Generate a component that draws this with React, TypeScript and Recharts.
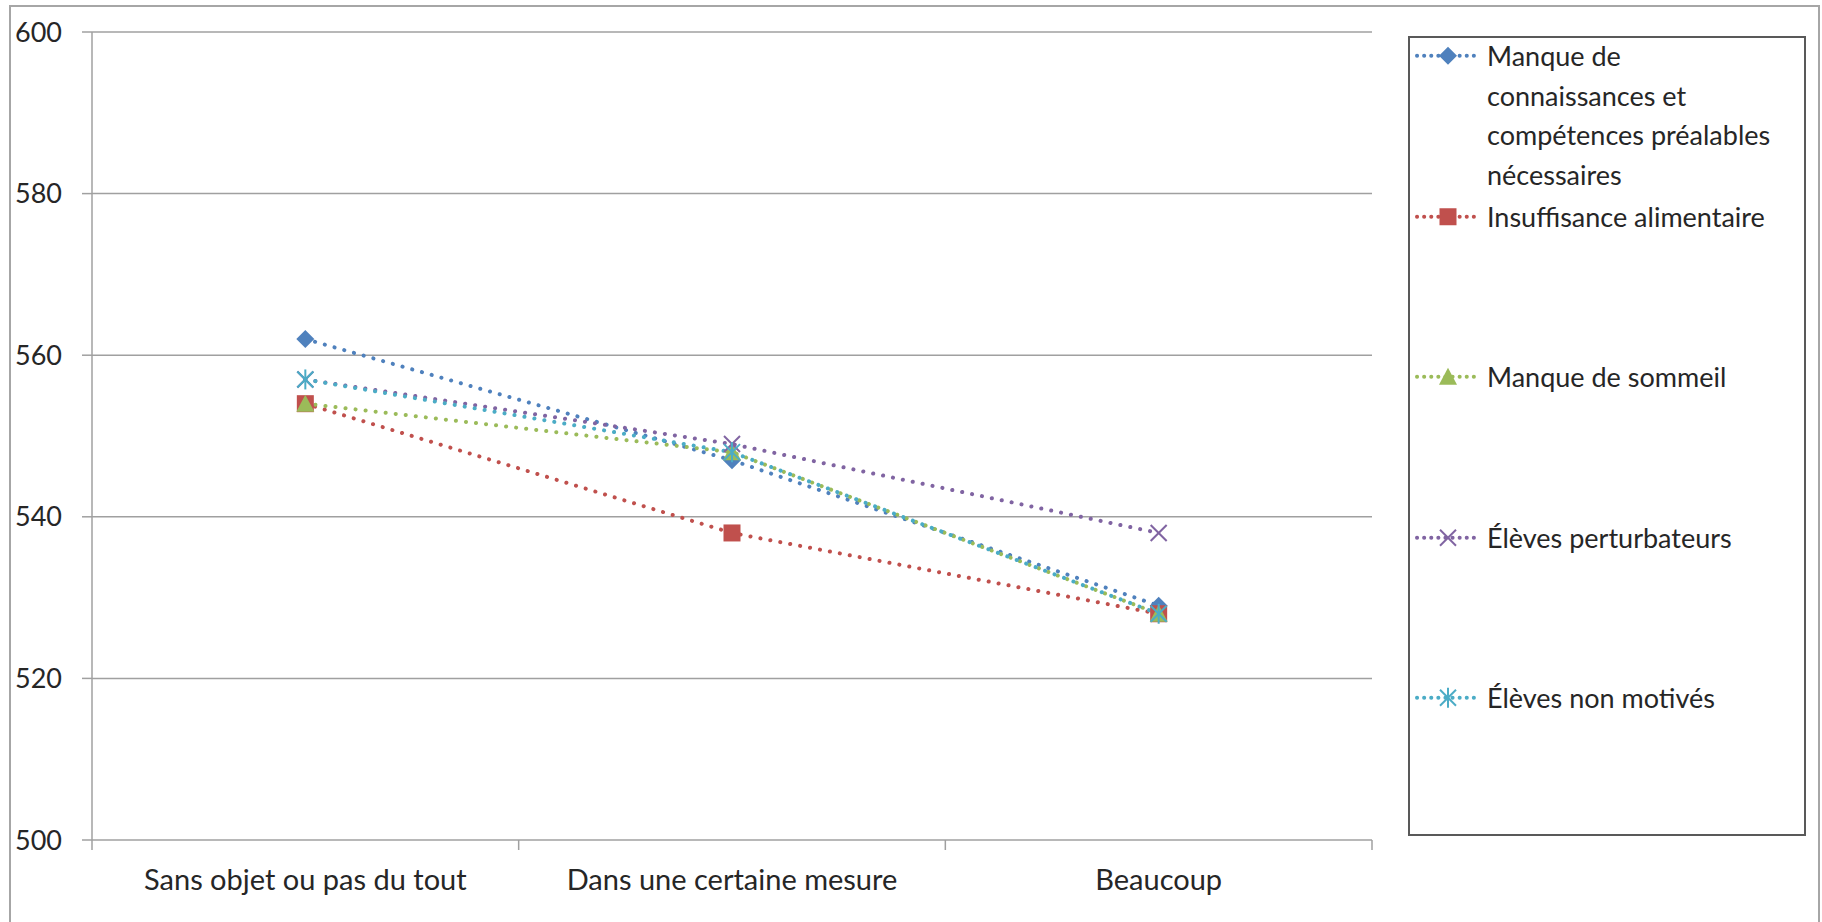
import { CartesianGrid, Line, LineChart, XAxis, YAxis } from "recharts";

const categories = ["Sans objet ou pas du tout", "Dans une certaine mesure", "Beaucoup"];
const connaissances = [562, 547, 529];
const alimentaire = [554, 538, 528];
const sommeil = [554, 548, 528];
const perturbateurs = [557, 549, 538];
const nonMotives = [557, 548, 528];
const yTicks = [500, 520, 540, 560, 580, 600];

type MarkerKind = "diamond" | "square" | "triangle" | "cross" | "star";

// legendLines keeps the wrapping used in the original legend
const series: { key: string; name: string; legendLines: string[]; color: string; marker: MarkerKind; values: number[] }[] = [
  {
    key: "connaissances",
    name: "Manque de connaissances et compétences préalables nécessaires",
    legendLines: ["Manque de", "connaissances et", "compétences préalables", "nécessaires"],
    color: "#4f81bd",
    marker: "diamond",
    values: connaissances,
  },
  { key: "alimentaire", name: "Insuffisance alimentaire", legendLines: ["Insuffisance alimentaire"], color: "#c0504d", marker: "square", values: alimentaire },
  { key: "sommeil", name: "Manque de sommeil", legendLines: ["Manque de sommeil"], color: "#9bbb59", marker: "triangle", values: sommeil },
  { key: "perturbateurs", name: "Élèves perturbateurs", legendLines: ["Élèves perturbateurs"], color: "#8064a2", marker: "cross", values: perturbateurs },
  { key: "nonMotives", name: "Élèves non motivés", legendLines: ["Élèves non motivés"], color: "#4bacc6", marker: "star", values: nonMotives },
];

const data = categories.map((category, i) => {
  const row: Record<string, string | number> = { category };
  series.forEach(s => (row[s.key] = s.values[i]));
  return row;
});

const FONT = 'Lato, "Open Sans", sans-serif';
const TEXT = "#262626";
const GRID = "#a0a0a0";
const X_TICK_MARGIN = 29;
const LEGEND_LINE = 39.5;

function Marker({ kind, cx, cy, color }: { kind: MarkerKind; cx: number; cy: number; color: string }) {
  if (cx == null || cy == null) return null;
  const r = 9;
  switch (kind) {
    case "diamond":
      return <polygon points={`${cx},${cy - r} ${cx + r},${cy} ${cx},${cy + r} ${cx - r},${cy}`} fill={color} />;
    case "square":
      return <rect x={cx - 8.5} y={cy - 8.5} width={17} height={17} fill={color} />;
    case "triangle":
      return <polygon points={`${cx},${cy - r} ${cx + r},${cy + 8} ${cx - r},${cy + 8}`} fill={color} />;
    case "cross":
      return (
        <g stroke={color} strokeWidth={2}>
          <line x1={cx - 8} y1={cy - 8} x2={cx + 8} y2={cy + 8} />
          <line x1={cx - 8} y1={cy + 8} x2={cx + 8} y2={cy - 8} />
        </g>
      );
    default:
      return (
        <g stroke={color} strokeWidth={2}>
          <line x1={cx - 8} y1={cy - 8} x2={cx + 8} y2={cy + 8} />
          <line x1={cx - 8} y1={cy + 8} x2={cx + 8} y2={cy - 8} />
          <line x1={cx} y1={cy - 10} x2={cx} y2={cy + 10} />
        </g>
      );
  }
}

// category label plus Excel-style tick marks on the band edges
function CategoryTick(props: any) {
  const { x, y, payload, index } = props;
  const half = payload.offset ?? 0;
  const axisY = y - X_TICK_MARGIN;
  const last = index === categories.length - 1;
  return (
    <g>
      <line x1={x - half} y1={axisY} x2={x - half} y2={axisY + 10} stroke={GRID} strokeWidth={1.5} />
      {last && <line x1={x + half} y1={axisY} x2={x + half} y2={axisY + 10} stroke={GRID} strokeWidth={1.5} />}
      <text x={x} y={y} dy="0.71em" textAnchor="middle" fill={TEXT} fontSize={29} fontFamily={FONT}>
        {payload.value}
      </text>
    </g>
  );
}

function LegendBox() {
  return (
    <div
      style={{
        position: "absolute",
        left: 1408,
        top: 36,
        width: 398,
        height: 800,
        border: "2px solid #595959",
        boxSizing: "border-box",
        fontFamily: FONT,
        fontSize: 27,
        color: TEXT,
      }}
    >
      {series.map((s, i) => (
        <div key={s.key} style={{ position: "absolute", left: 0, top: -1.8 + 160.5 * i, width: 394 }}>
          <svg width={62} height={LEGEND_LINE} style={{ position: "absolute", left: 5, top: 0 }}>
            <line x1={2} y1={LEGEND_LINE / 2} x2={60} y2={LEGEND_LINE / 2} stroke={s.color} strokeWidth={4} strokeDasharray="0.1 7" strokeLinecap="round" />
            <Marker kind={s.marker} cx={33} cy={LEGEND_LINE / 2} color={s.color} />
          </svg>
          <div style={{ position: "absolute", left: 77, top: 0, whiteSpace: "nowrap", lineHeight: `${LEGEND_LINE}px` }}>
            {s.legendLines.map(line => (
              <div key={line}>{line}</div>
            ))}
          </div>
        </div>
      ))}
    </div>
  );
}

export default function App() {
  return (
    <div style={{ position: "absolute", left: 0, top: 0, width: 1822, height: 922, background: "#fff", overflow: "hidden" }}>
      <div
        style={{
          position: "absolute",
          left: 9,
          top: 5,
          width: 1811,
          height: 940,
          border: "2px solid #a6a6a6",
          boxSizing: "border-box",
        }}
      />
      <div style={{ position: "absolute", left: 0, top: 0 }}>
        <LineChart width={1822} height={922} data={data} margin={{ top: 32, right: 450, bottom: 22, left: 12 }}>
          <CartesianGrid vertical={false} stroke={GRID} strokeWidth={1.5} />
          <XAxis
            dataKey="category"
            scale="band"
            interval={0}
            tickLine={false}
            axisLine={false}
            tickSize={0}
            tickMargin={X_TICK_MARGIN}
            height={60}
            tick={<CategoryTick />}
          />
          <YAxis
            domain={[500, 600]}
            ticks={yTicks}
            width={80}
            tickSize={10}
            tickMargin={20}
            tickLine={{ stroke: GRID, strokeWidth: 1.5 }}
            axisLine={{ stroke: GRID, strokeWidth: 1.5 }}
            tick={{ fill: TEXT, fontSize: 27, fontFamily: FONT }}
          />
          {series.map(s => (
            <Line
              key={s.key}
              dataKey={s.key}
              name={s.name}
              stroke={s.color}
              strokeWidth={4}
              strokeDasharray="0.1 10"
              strokeLinecap="round"
              activeDot={false}
              isAnimationActive={false}
              dot={(p: any) => <Marker key={`${s.key}-${p.index}`} kind={s.marker} cx={p.cx} cy={p.cy} color={s.color} />}
            />
          ))}
        </LineChart>
      </div>
      <LegendBox />
    </div>
  );
}
